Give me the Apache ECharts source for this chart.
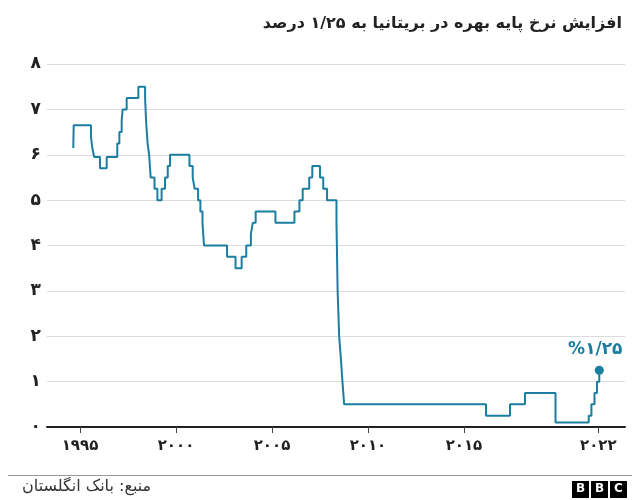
<!DOCTYPE html>
<html>
<head>
<meta charset="utf-8">
<script src="https://cdn.jsdelivr.net/npm/echarts@6/dist/echarts.min.js"></script>
<style>
  html, body { margin: 0; padding: 0; background: #fff; }
  #chart { width: 640px; height: 500px; }
</style>
</head>
<body>
<div id="chart"></div>
<script>
// change points (decimal year on the chart's scale, rate %)
const rateDates = [
  1994.65, 1994.67, 1995.57, 1995.64, 1995.74, 1996.04, 1996.39, 1996.94, 1997.05, 1997.17,
  1997.22, 1997.43, 1998.04, 1998.39, 1998.44, 1998.52, 1998.6, 1998.68, 1998.88, 1999.03,
  1999.25, 1999.43, 1999.57, 1999.69, 2000.7, 2000.87, 2000.97, 2001.15, 2001.27, 2001.38,
  2001.46, 2002.66, 2003.1, 2003.42, 2003.66, 2003.9, 2004.0, 2004.15, 2005.18, 2006.17,
  2006.43, 2006.6, 2006.94, 2007.1, 2007.5, 2007.67, 2007.87, 2008.36, 2008.42, 2008.5,
  2008.59, 2008.67, 2008.76, 2016.15, 2017.4, 2018.18, 2019.77, 2021.5, 2021.64, 2021.8,
  2021.93, 2022.05
];
const rateValues = [
  6.15, 6.65, 6.4, 6.15, 5.95, 5.7, 5.95, 6.25, 6.5, 6.75,
  7.0, 7.25, 7.5, 7.25, 6.75, 6.25, 6.0, 5.5, 5.25, 5.0,
  5.25, 5.5, 5.75, 6.0, 5.75, 5.5, 5.25, 5.0, 4.75, 4.5,
  4.0, 3.75, 3.5, 3.75, 4.0, 4.25, 4.5, 4.75, 4.5, 4.75,
  5.0, 5.25, 5.5, 5.75, 5.5, 5.25, 5.0, 4.5, 3.0, 2.0,
  1.5, 1.0, 0.5, 0.25, 0.5, 0.75, 0.1, 0.25, 0.5, 0.75,
  1.0, 1.25
];
const yearTicks = [1995, 2000, 2005, 2010, 2015, 2022];
const rateTicks = [0, 1, 2, 3, 4, 5, 6, 7, 8];
const lastLabel = '%۱/۲۵';

const titleText = 'افزایش نرخ پایه بهره در بریتانیا به ۱/۲۵ درصد';
const sourceText = 'منبع: بانک انگلستان';

const lineColor = '#1a7ea0';
const fontFamily = '"DejaVu Sans", "Noto Sans", sans-serif';

const faDigits = '۰۱۲۳۴۵۶۷۸۹';
const toFa = (v) => String(v).replace(/\d/g, (d) => faDigits[d]);

const chart = echarts.init(document.getElementById('chart'));

const seriesData = rateDates.map((d, i) => [d, rateValues[i]]);
const lastIdx = rateDates.length - 1;

const logoLetters = ['B', 'B', 'C'];
const logo = [];
logoLetters.forEach((ch, i) => {
  logo.push({
    type: 'rect',
    left: 572 + i * 19,
    top: 481,
    shape: { width: 17, height: 17 },
    style: { fill: '#000' }
  });
  logo.push({
    type: 'text',
    left: 572 + i * 19 + 4,
    top: 483,
    style: {
      text: ch,
      fill: '#fff',
      font: 'bold 12px "DejaVu Sans", sans-serif'
    }
  });
});

const option = {
  animation: false,
  title: {
    text: titleText,
    right: 13,
    top: 11,
    textStyle: {
      fontFamily: fontFamily,
      fontSize: 16,
      fontWeight: 'bold',
      color: '#222'
    }
  },
  grid: {
    left: 47,
    right: 15,
    top: 64,
    bottom: 73
  },
  xAxis: {
    type: 'value',
    min: 1993.28,
    max: 2023.39,
    splitLine: { show: false },
    axisLine: { show: true, lineStyle: { color: '#222', width: 2 } },
    axisTick: {
      show: true,
      customValues: yearTicks,
      length: 6,
      lineStyle: { color: '#444', width: 1 }
    },
    axisLabel: {
      customValues: yearTicks,
      formatter: (v) => toFa(v),
      margin: 12,
      fontFamily: fontFamily,
      fontSize: 15,
      fontWeight: 'bold',
      color: '#222'
    }
  },
  yAxis: {
    type: 'value',
    min: 0,
    max: 8,
    interval: 1,
    axisLine: { show: false },
    axisTick: { show: false },
    splitLine: { lineStyle: { color: '#dcdcdc', width: 1 } },
    axisLabel: {
      formatter: (v) => (rateTicks.includes(v) ? toFa(v) : ''),
      margin: 6,
      fontFamily: fontFamily,
      fontSize: 17,
      fontWeight: 'bold',
      color: '#222'
    }
  },
  series: [
    {
      type: 'line',
      step: 'end',
      data: seriesData,
      showSymbol: false,
      lineStyle: { color: lineColor, width: 2 },
      z: 3
    },
    {
      type: 'scatter',
      data: [[rateDates[lastIdx], rateValues[lastIdx]]],
      symbolSize: 9,
      itemStyle: { color: lineColor, opacity: 1 },
      label: {
        show: true,
        position: 'top',
        distance: 8,
        offset: [-4, 0],
        formatter: () => lastLabel,
        fontFamily: fontFamily,
        fontSize: 17,
        fontWeight: 'bold',
        color: lineColor
      },
      z: 4
    }
  ],
  graphic: [
    {
      type: 'line',
      shape: { x1: 8, y1: 475.5, x2: 632, y2: 475.5 },
      style: { stroke: '#999', lineWidth: 1 }
    },
    {
      type: 'text',
      left: 22,
      top: 479,
      style: {
        text: sourceText,
        fill: '#333',
        font: '16px "DejaVu Sans", sans-serif'
      }
    }
  ].concat(logo)
};

chart.setOption(option);
</script>
</body>
</html>
